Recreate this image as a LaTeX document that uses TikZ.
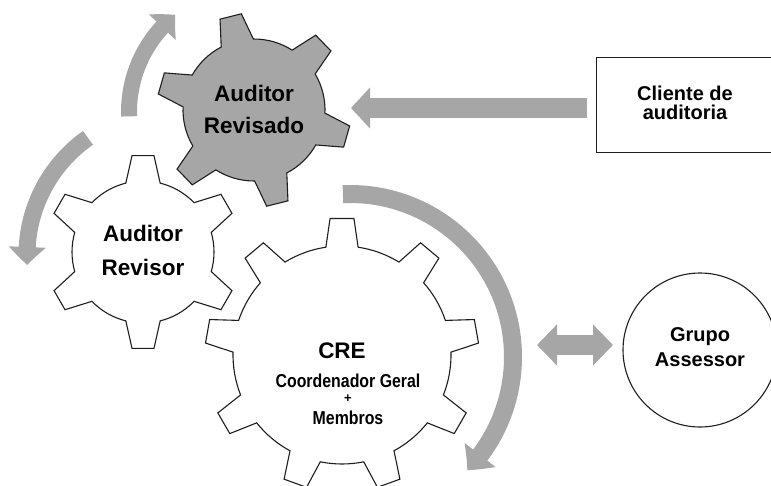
\documentclass[tikz,border=0pt]{standalone}
\usepackage{fontspec}
\setmainfont{Liberation Sans}
\newfontfamily\narrowfont[FakeStretch=0.85]{Liberation Sans}
\usetikzlibrary{arrows.meta,bending}
\definecolor{arrowgray}{RGB}{166,166,166}
\definecolor{gearline}{RGB}{30,30,30}
\tikzset{
  gearshape/.style={draw=gearline, line width=1.1pt, line join=miter},
  blockarrow/.style={draw=arrowgray, line width=#1},
  gtext/.style={anchor=base, inner sep=0pt, font=\bfseries\fontsize{22.5}{26}\selectfont},
  btext/.style={anchor=base, inner sep=0pt, font=\bfseries\fontsize{20}{24}\selectfont},
  ntext/.style={anchor=base, inner sep=0pt, font=\narrowfont\bfseries\fontsize{18.7}{22}\selectfont},
  ptext/.style={anchor=base, inner sep=0pt, font=\bfseries\fontsize{13}{14}\selectfont},
  framebox/.style={draw=gearline, line width=1.3pt, inner sep=0pt},
}
% #1 style, #2 centre, #3 last tooth index, #4 offset, #5 tip r, #6 root r, #7 half tip angle, #8 half base angle, #9 step
\newcommand{\drawgear}[9]{%
  \draw[#1, shift={#2}] ({#4-#8}:#6)
    \foreach \k [evaluate=\k as \ga using {#4+\k*#9}] in {0,...,#3} {
      -- ({\ga-#7}:#5) -- ({\ga+#7}:#5) -- ({\ga+#8}:#6)
      arc[start angle={\ga+#8}, end angle={\ga+#9-#8}, radius=#6]
    } -- cycle;
}
\begin{document}
\begin{tikzpicture}[x=1pt,y=-1pt]
\useasboundingbox (0,0) rectangle (771,485);
\clip (0,0) rectangle (771,485);

% centres of the rotation arrows
\coordinate (c1) at (254,112);
\coordinate (c2) at (170,255);
\coordinate (c3) at (350,357);

% curved arrows
\draw[blockarrow=16pt, -{Triangle[width=36pt,length=18pt,bend]}]
  ([shift={(178:125)}]c1) arc[start angle=178, end angle=231, radius=125];
\draw[blockarrow=17pt, -{Triangle[width=36pt,length=18pt,bend]}]
  ([shift={(235:143)}]c2) arc[start angle=235, end angle=176, radius=143];
\draw[blockarrow=18pt, -{Triangle[width=38pt,length=20pt,bend]}]
  ([shift={(-92.5:163)}]c3) arc[start angle=-92.5, end angle=44, radius=163];

% gears
\drawgear{gearshape, fill=arrowgray}{(254,110)}{5}{16}{97}{71}{6.5}{13.5}{60}
\drawgear{gearshape, fill=white}{(143,252)}{5}{30}{97}{71}{6.5}{14}{60}
\drawgear{gearshape, fill=white}{(342,355)}{8}{30}{137}{109}{5}{8.5}{40}

% client box and advisory group
\node[framebox, minimum width=200pt, minimum height=95pt, anchor=north west] (cliente) at (596,57) {};
\node[framebox, line width=1.1pt, circle, minimum size=154pt] (grupo) at (700,350) {};

% straight arrows
\coordinate (s1) at (587,108);
\coordinate (s2) at (351,108);
\draw[blockarrow=20pt, -{Triangle[width=40pt,length=19pt]}] (s1) -- (s2);
\coordinate (d1) at (537,345);
\coordinate (d2) at (613,345);
\draw[blockarrow=20pt, {Triangle[width=40pt,length=20pt]}-{Triangle[width=40pt,length=20pt]}] (d1) -- (d2);

% labels
\node[gtext] (t1a) at (254,101) {Auditor};
\node[gtext] (t1b) at (254,133.5) {Revisado};
\node[gtext] (t2a) at (143,241.7) {Auditor};
\node[gtext] (t2b) at (143,275) {Revisor};
\node[gtext] (t3a) at (342,358) {CRE};
\node[ntext] (t3b) at (348,387) {Coordenador Geral};
\node[ptext] (t3c) at (348,402) {+};
\node[ntext] (t3d) at (348,424) {Membros};
\node[btext] (t4a) at (685,100) {Cliente de};
\node[btext] (t4b) at (685,119.5) {auditoria};
\node[btext] (t5a) at (700,341.7) {Grupo};
\node[btext] (t5b) at (700,366.7) {Assessor};
\end{tikzpicture}
\end{document}
